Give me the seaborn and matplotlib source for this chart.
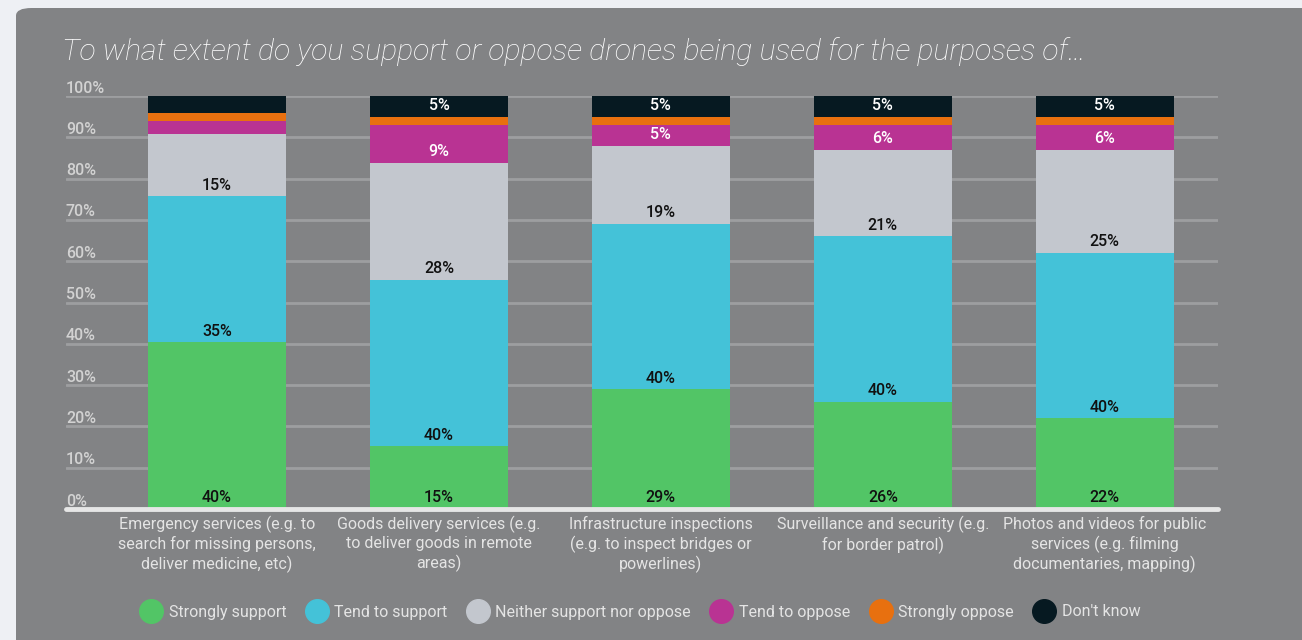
import numpy as np
import pandas as pd
import matplotlib
matplotlib.use("Agg")
import matplotlib.pyplot as plt
from matplotlib.lines import Line2D
from matplotlib.patches import FancyBboxPatch
import seaborn as sns


# ================== DATA ==================
purposes = [
    "Emergency services (e.g. to\nsearch for missing persons,\ndeliver medicine, etc)",
    "Goods delivery services (e.g.\nto deliver goods in remote\nareas)",
    "Infrastructure inspections\n(e.g. to inspect bridges or\npowerlines)",
    "Surveillance and security (e.g.\nfor border patrol)",
    "Photos and videos for public\nservices (e.g. filming\ndocumentaries, mapping)",
]
responses = ["Strongly support", "Tend to support", "Neither support nor oppose",
             "Tend to oppose", "Strongly oppose", "Don't know"]

strongly_support = [40, 15, 29, 26, 22]
tend_support = [35, 40, 40, 40, 40]
neither = [15, 28, 19, 21, 25]
tend_oppose = [3, 9, 5, 6, 6]
strongly_oppose = [2, 2, 2, 2, 2]
dont_know = [4, 5, 5, 5, 5]

colors = ["#52c566", "#44c2d8", "#c3c7ce", "#b93393", "#e8700f", "#061921"]
label_colors = ["#111111", "#111111", "#111111", "white", "white", "white"]

y_ticks = np.arange(0, 101, 10)

# ================== FRAME ==================
df = pd.DataFrame({
    "purpose": purposes,
    responses[0]: strongly_support,
    responses[1]: tend_support,
    responses[2]: neither,
    responses[3]: tend_oppose,
    responses[4]: strongly_oppose,
    responses[5]: dont_know,
})
vals = df[responses]
pct = vals.div(vals.sum(axis=1), axis=0) * 100
cum = pct.cumsum(axis=1)
base = cum - pct

panel = "#828385"
text_grey = "#e4e4e4"

sns.set_theme(style="white")
plt.rcParams["font.family"] = ["Roboto", "DejaVu Sans"]

fig = plt.figure(figsize=(13.02, 6.4), dpi=100, facecolor="#eef0f4")
fig.patches.append(FancyBboxPatch((16 / 1302, -0.1), 1.2, 1.1 - 8 / 640,
                                  boxstyle="round,pad=0,rounding_size=0.012",
                                  transform=fig.transFigure, facecolor=panel,
                                  edgecolor="none", zorder=-1))

ax = fig.add_axes([66 / 1302, 1 - 509 / 640, (1218 - 66) / 1302, (509 - 96) / 640])
ax.set_facecolor("none")

# stacked bars: draw cumulative totals from top layer down
for i in range(len(responses) - 1, -1, -1):
    sns.barplot(x=df["purpose"], y=cum[responses[i]], color=colors[i],
                saturation=1, width=0.62, ax=ax, zorder=3,
                edgecolor="none", linewidth=0)

ax.set_xlim(-0.68, 4.51)
ax.set_ylim(0, 100)

# grid lines + y labels sitting above lines
for t in y_ticks[1:]:
    ax.axhline(t, color="#9d9ea0", lw=2, zorder=1)
for t in y_ticks:
    ax.text(0, t + 0.1, f"{t}%", transform=ax.get_yaxis_transform(),
            ha="left", va="bottom", fontsize=11.5, fontweight="medium", color="#d2d2d2")
ax.axhline(0, color="#e6e6e6", lw=3.5, zorder=4, clip_on=False)

# value labels at the bottom of each segment
for j in range(len(purposes)):
    for i, r in enumerate(responses):
        v = vals.iloc[j][r]
        if v < 5:
            continue
        ax.annotate(f"{v}%", (j, base.iloc[j][r]), xytext=(0, 8),
                    textcoords="offset points", ha="center", va="center",
                    fontsize=11.5, fontweight="medium", color=label_colors[i], zorder=5)

ax.set_yticks([])
ax.set_xlabel("")
ax.set_ylabel("")
ax.tick_params(axis="x", length=0, pad=5, labelsize=11.5, labelcolor=text_grey)
ax.set_xticks(range(len(purposes)))
ax.set_xticklabels(purposes, linespacing=1.25)
sns.despine(ax=ax, left=True, bottom=True)

fig.text(62 / 1302, 1 - 52 / 640,
         "To what extent do you support or oppose drones being used for the purposes of\u2026",
         fontsize=21.8, style="italic", fontweight="light", color="white", va="center")

handles = [Line2D([], [], marker="o", linestyle="none", markersize=17,
                  markerfacecolor=c, markeredgecolor=c) for c in colors]
fig.legend(handles, responses, loc="center", bbox_to_anchor=(641 / 1302, 1 - 612 / 640),
           ncol=6, frameon=False, fontsize=11.5, labelcolor=text_grey,
           handletextpad=0.5, columnspacing=1.3, handlelength=1.2)

fig.savefig("out.png", dpi=100, facecolor=fig.get_facecolor())
